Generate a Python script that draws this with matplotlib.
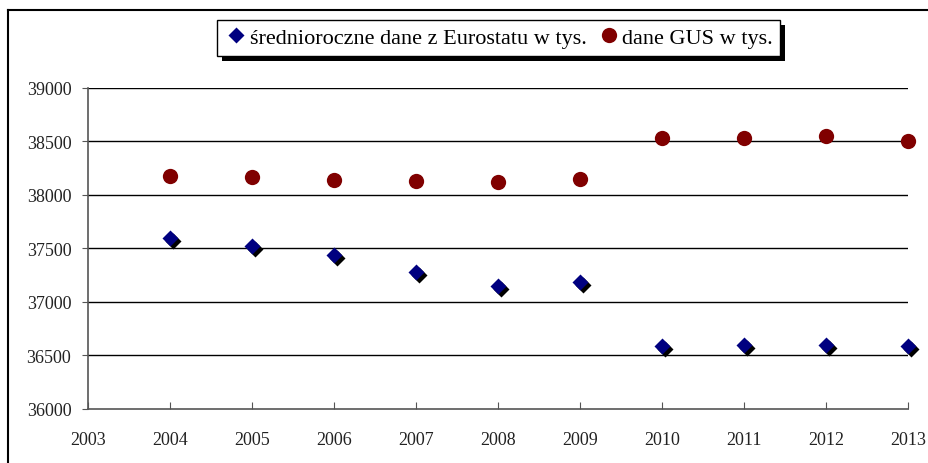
import matplotlib
matplotlib.use("Agg")
import matplotlib.pyplot as plt
import matplotlib.transforms as mtransforms
from matplotlib.lines import Line2D
from matplotlib.patches import Rectangle

plt.rcParams['font.family'] = ['Liberation Serif', 'DejaVu Serif']

years = [2004, 2005, 2006, 2007, 2008, 2009, 2010, 2011, 2012, 2013]
eurostat = [37600, 37520, 37440, 37280, 37150, 37190, 36590, 36600, 36600, 36590]
gus = [38180, 38170, 38140, 38130, 38120, 38150, 38530, 38530, 38550, 38500]

yticks = list(range(36000, 39001, 500))
xticks = list(range(2003, 2014))

fig = plt.figure(figsize=(9.29, 4.64), dpi=100)
ax = fig.add_axes([0.0947, 0.1164, 0.8827, 0.6918])

ax.set_xlim(2003, 2013)
ax.set_ylim(36000, 39000)
ax.set_yticks(yticks)
ax.set_xticks(xticks)
for y in yticks[1:]:
    ax.axhline(y, color='black', lw=1.0, zorder=1)

# black drop shadow under the diamonds
shadow = mtransforms.offset_copy(ax.transData, fig=fig, x=2.2, y=-2.2, units='points')
ax.plot(years, eurostat, 'D', ms=8, color='black', mec='none', transform=shadow,
        zorder=3, clip_on=False)
ax.plot(years, eurostat, 'D', ms=8, color='#000080', mec='none', zorder=4,
        clip_on=False, label='średnioroczne dane z Eurostatu w tys.')
ax.plot(years, gus, 'o', ms=11, color='#800000', mec='none', zorder=4,
        clip_on=False, label='dane GUS w tys.')

for s in ['top', 'right']:
    ax.spines[s].set_visible(False)
for s in ['left', 'bottom']:
    ax.spines[s].set_color('#555555')
    ax.spines[s].set_linewidth(1.2)

ax.tick_params(axis='x', direction='in', length=5, color='#555555', labelsize=13,
               labelcolor='#222222', pad=16)
ax.tick_params(axis='y', direction='out', length=4, color='#555555', labelsize=13,
               labelcolor='#222222', pad=8)

leg = fig.legend(loc='center', bbox_to_anchor=(0.537, 0.916), ncol=2,
                 fontsize=16, frameon=True, fancybox=False, framealpha=1,
                 facecolor='white', handletextpad=0.1, columnspacing=0.5,
                 handlelength=1.0, borderpad=0.35, borderaxespad=0)
leg.get_frame().set_edgecolor('black')
leg.get_frame().set_linewidth(1.0)
leg.set_zorder(5)

# solid black shadow behind the legend box
fig.canvas.draw()
bb = leg.get_frame().get_window_extent()
fig.add_artist(Rectangle((bb.x0 + 5, bb.y0 - 5), bb.width, bb.height,
                         transform=None, facecolor='black', edgecolor='none',
                         zorder=4))

# outer chart frame (top and left edges visible)
fig.add_artist(Line2D([8 / 929, 1], [1 - 11 / 464, 1 - 11 / 464],
                      transform=fig.transFigure, color='black', lw=1.5))
fig.add_artist(Line2D([8 / 929, 8 / 929], [0, 1 - 11 / 464],
                      transform=fig.transFigure, color='black', lw=1.5))

fig.savefig('out.png', dpi=100)
